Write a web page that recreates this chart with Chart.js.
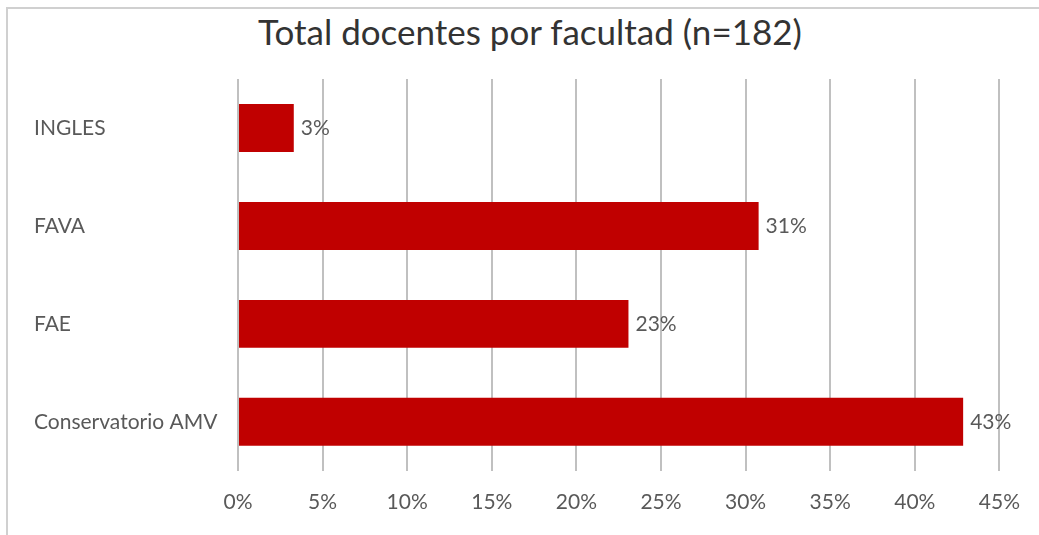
<!DOCTYPE html>
<html lang="es">
<head>
  <meta charset="UTF-8">
  <title>Total docentes por facultad</title>
  <script src="https://cdn.jsdelivr.net/npm/chart.js"></script>
  <style>
    body {
      margin: 0;
      background: #fff;
      font-family: Lato, sans-serif;
    }
    #wrap {
      position: relative;
      width: 1039px;
      height: 535px;
    }
    #frame {
      position: absolute;
      left: 6px;
      top: 7px;
      right: 0;
      bottom: 0;
      border-top: 2px solid #d0d0d0;
      border-left: 2px solid #d0d0d0;
    }
    #title {
      position: absolute;
      left: 0;
      width: 1060px;
      top: 10px;
      text-align: center;
      font-size: 35px;
      color: #333;
    }
    canvas {
      position: absolute;
      left: 0;
      top: 0;
    }
  </style>
</head>
<body>
  <div id="wrap">
    <div id="frame"></div>
    <div id="title">Total docentes por facultad (n=182)</div>
    <canvas id="chart" width="1039" height="535"></canvas>
  </div>

  <script>
    const facultades = ['INGLES', 'FAVA', 'FAE', 'Conservatorio AMV'];
    const docentes = [6, 56, 42, 78];
    const total = 182;
    const porcentajes = docentes.map(d => d / total * 100);

    // etiquetas al final de cada barra
    const valueLabels = {
      id: 'valueLabels',
      afterDatasetsDraw(chart) {
        const ctx = chart.ctx;
        const meta = chart.getDatasetMeta(0);
        ctx.save();
        ctx.font = '21px Lato';
        ctx.fillStyle = '#595959';
        ctx.textAlign = 'left';
        ctx.textBaseline = 'middle';
        meta.data.forEach((bar, i) => {
          ctx.fillText(Math.round(porcentajes[i]) + '%', bar.x + 7, bar.y);
        });
        ctx.restore();
      }
    };

    new Chart(document.getElementById('chart'), {
      type: 'bar',
      data: {
        labels: facultades,
        datasets: [{
          data: porcentajes,
          backgroundColor: '#c00000',
          categoryPercentage: 0.49,
          barPercentage: 1
        }]
      },
      options: {
        indexAxis: 'y',
        responsive: false,
        animation: false,
        layout: {
          padding: { left: 34, right: 27, top: 79, bottom: 1 }
        },
        plugins: {
          legend: { display: false },
          tooltip: { enabled: false }
        },
        scales: {
          x: {
            min: 0,
            max: 45,
            ticks: {
              stepSize: 5,
              padding: 19,
              color: '#595959',
              font: { family: 'Lato', size: 21 },
              callback: v => v + '%'
            },
            grid: {
              color: '#c0c0c0',
              lineWidth: 2,
              drawTicks: false
            },
            border: { display: false }
          },
          y: {
            afterFit(scale) { scale.width = 204; },
            ticks: {
              crossAlign: 'far',
              color: '#595959',
              font: { family: 'Lato', size: 21 }
            },
            grid: { display: false, drawTicks: false },
            border: { display: false }
          }
        }
      },
      plugins: [valueLabels]
    });
  </script>
</body>
</html>
